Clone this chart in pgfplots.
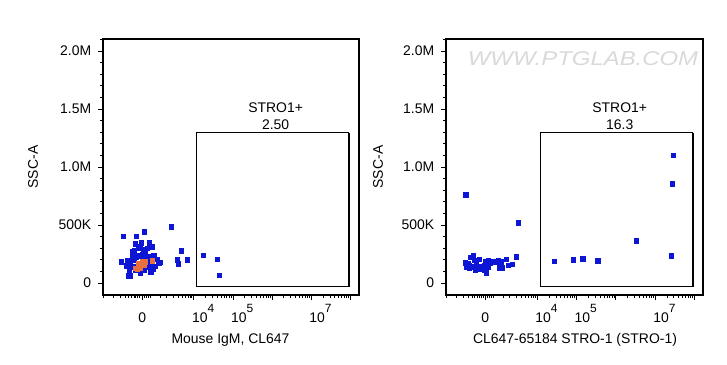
\documentclass[border=0pt]{standalone}
\usepackage{pgfplots}
\pgfplotsset{compat=1.18}
\usepackage{fontspec}
\setmainfont{Liberation Sans}
\definecolor{pblue}{RGB}{12,22,212}
\definecolor{porange}{RGB}{232,112,64}
\newcommand{\sexp}[1]{\raisebox{9.5bp}{\fontsize{12}{12}\selectfont #1}}
\newcommand{\tl}[1]{\rlap{\hspace{-1.8bp}10\sexp{#1}}}
\newcommand{\lf}{\fontsize{14}{16}\selectfont}
\pgfplotsset{flowaxis/.style={
  scale only axis, width=256bp, height=256bp,
  xmin=1.68, xmax=8.22, ymin=-103000, ymax=2103000,
  axis line style={line width=1.1bp},
  tick align=outside, xtick pos=bottom, ytick pos=left,
  tick style={black, line width=0.8bp},
  major tick length=5bp, minor tick length=3bp,
  xtick={2.68,4,5,6,7,8},
  xticklabels={0\rlap{\phantom{\sexp{4}}}, \tl{4}, \tl{5}, , \tl{7}, },
  minor xtick={1.70,1.95,2.12,2.26,2.34,2.41,2.47,2.52,2.57,2.62,2.73,2.78,2.83,2.89,
    3.15,3.30,3.48,3.60,3.70,3.78,3.85,3.90,3.95,
    4.301,4.477,4.602,4.699,4.778,4.845,4.903,4.954,
    5.301,5.477,5.602,5.699,5.778,5.845,5.903,5.954,
    6.301,6.477,6.602,6.699,6.778,6.845,6.903,6.954,
    7.301,7.477,7.602,7.699,7.778,7.845,7.903,7.954},
  ytick={0,500000,1000000,1500000,2000000},
  yticklabels={0,500K,1.0M,1.5M,2.0M},
  minor ytick={100000,200000,300000,400000,600000,700000,800000,900000,
    1100000,1200000,1300000,1400000,1600000,1700000,1800000,1900000,2100000},
  scaled y ticks=false,
  xticklabel style={yshift=-0.8bp},
  yticklabel style={xshift=-3.3bp},
  font=\lf,
  every axis plot/.append style={only marks, mark=square*, mark size=2.1bp},
  clip=false,
}}
\begin{document}
\begin{tikzpicture}[x=1bp,y=1bp]
\path[use as bounding box] (0,0) rectangle (727,364);
% ---------------- left panel ----------------
\begin{axis}[flowaxis, at={(103bp,69bp)}, anchor=south west]
\addplot[pblue, mark options={draw=pblue, fill=pblue}] coordinates {
(2.19,405000)(2.52,405000)(2.74,442000)(3.42,485000)(3.67,279000)(3.58,201000)
(3.60,167000)(3.84,201000)(4.24,241000)(4.60,207000)(4.65,69000)(2.15,184000)
(2.505,339000)(2.65,348000)(2.863,348000)(2.932,313000)(2.479,284000)(2.616,305000)
(2.718,290000)(2.804,299000)(2.419,236000)(2.547,241000)(2.675,250000)(2.761,256000)
(2.975,236000)(2.291,198000)(2.145,184000)(2.376,184000)(2.462,198000)(2.804,198000)
(3.103,175000)(2.334,155000)(2.462,147000)(2.59,155000)(2.889,155000)(3.017,147000)
(2.359,112000)(2.505,112000)(2.718,112000)(2.889,98000)(2.633,83000)(2.376,63000)
(2.53,227000)(2.701,213000)(2.846,227000)(2.889,126000)(2.804,141000)(3.06,204000)
(3.13,181000)(2.91,98000)(2.33,63000)(2.63,83000)(2.44,270000)(2.58,320000)
(2.70,175000)(2.86,170000)(2.40,135000)(2.95,120000)(2.28,150000)(2.60,230000)
};
\addplot[porange, mark options={draw=porange, fill=porange}] coordinates {
(2.59,169000)(2.675,184000)(2.718,155000)(2.616,135000)(2.932,192000)
(2.633,126000)(2.547,118000)(2.761,184000)(2.93,198000)(2.50,126000)
};
\draw[line width=1bp] (axis cs:4.08,-34000) rectangle (axis cs:7.96,1293000);
\draw[line width=2bp] (axis cs:7.96,-34000) -- (axis cs:7.96,1293000);
\node[font=\lf] at (axis cs:6.09,1509000) {STRO1+};
\node[font=\lf] at (axis cs:6.09,1362000) {2.50};
\end{axis}
% ---------------- right panel ----------------
\begin{axis}[flowaxis, at={(446bp,69bp)}, anchor=south west, width=257bp]
\addplot[pblue, mark options={draw=pblue, fill=pblue}] coordinates {
(2.18,761000)(3.51,520000)(3.47,227000)(4.43,187000)(4.91,201000)(5.16,209000)
(5.54,192000)(6.52,365000)(7.46,1103000)(7.44,856000)(7.41,236000)
(2.176,175000)(2.236,169000)(2.193,135000)(2.278,126000)(2.321,146000)(2.304,221000)
(2.381,241000)(2.406,198000)(2.364,135000)(2.432,112000)(2.449,169000)(2.517,207000)
(2.491,135000)(2.551,146000)(2.619,135000)(2.662,155000)(2.704,98000)(2.687,184000)
(2.747,198000)(2.747,135000)(2.790,169000)(2.875,190000)(2.943,184000)(3.003,192000)
(3.071,184000)(3.028,132000)(3.114,132000)(3.216,207000)(3.259,155000)(3.370,164000)
(3.472,224000)(2.662,112000)(2.534,118000)(2.278,155000)(2.807,184000)(2.730,149000)
(2.71,84000)
};
\draw[line width=1bp] (axis cs:4.08,-34000) rectangle (axis cs:7.96,1293000);
\draw[line width=2bp] (axis cs:7.96,-34000) -- (axis cs:7.96,1293000);
\node[font=\lf] at (axis cs:6.10,1509000) {STRO1+};
\node[font=\lf] at (axis cs:6.10,1362000) {16.3};
\end{axis}
% ---------------- labels ----------------
\node[font=\lf, anchor=base] at (230.5,21) {Mouse IgM, CL647};
\node[font=\lf, anchor=base] at (575,21) {CL647-65184 STRO-1 (STRO-1)};
\node[font=\lf, rotate=90] at (33,197) {SSC-A};
\node[font=\lf, rotate=90] at (378,197) {SSC-A};
\node[font=\fontsize{20}{20}\selectfont\itshape, text=black!15, xscale=1.2] at (583,305) {WWW.PTGLAB.COM};
\end{tikzpicture}
\end{document}
